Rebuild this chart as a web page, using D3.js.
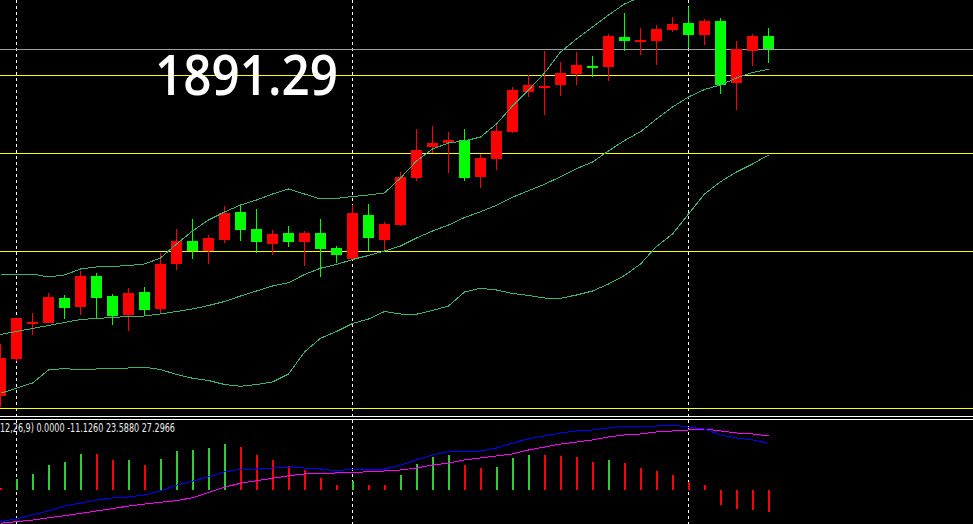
<!DOCTYPE html>
<html><head><meta charset="utf-8">
<script src="https://cdn.jsdelivr.net/npm/d3@7"></script>
<style>html,body{margin:0;padding:0;background:#000;overflow:hidden}</style>
</head><body>
<svg id="c" width="973" height="524"></svg>
<script>
// ---- data ----
const barIndex = d3.range(49);
const open  = [1752.72,1767.6,1781.8,1781.92,1791.8,1788.32,1800.6,1792.6,1785.12,1794.2,1787.52,1805.4,1814.6,1810.6,1815.0,1826.2,1819.4,1813.4,1817.8,1814.2,1817.8,1811.8,1807.4,1825.0,1815.0,1821.0,1839.8,1852.2,1853.8,1855.0,1840.2,1847.4,1858.2,1874.2,1876.2,1877.0,1881.4,1884.6,1884.2,1896.2,1894.6,1894.6,1899.0,1901.8,1897.0,1902.6,1877.8,1890.6,1896.6];
const high  = [1773.4,1783.9,1785.8,1793.8,1793.0,1802.6,1801.8,1793.4,1795.8,1796.2,1809.8,1819.4,1823.4,1817.0,1828.6,1829.0,1827.4,1819.0,1820.6,1818.6,1823.4,1812.6,1829.0,1829.4,1822.2,1842.2,1859.4,1860.6,1858.2,1859.4,1849.4,1861.0,1876.2,1881.0,1890.6,1886.2,1890.2,1888.6,1897.4,1905.8,1899.8,1901.0,1904.2,1908.2,1903.4,1903.8,1894.6,1897.4,1899.8];
const low   = [1748.32,1766.72,1777.0,1781.8,1783.4,1785.0,1783.68,1781.0,1778.6,1784.6,1785.92,1803.0,1807.4,1805.4,1813.8,1814.6,1809.8,1809.0,1812.2,1804.6,1800.2,1805.8,1807.0,1810.6,1810.6,1820.6,1838.4,1849.8,1841.8,1838.6,1835.8,1843.0,1857.8,1872.2,1865.0,1872.6,1877.0,1880.2,1878.6,1890.6,1889.0,1885.0,1898.2,1891.8,1893.0,1873.4,1867.0,1884.6,1885.8];
const close = [1767.92,1783.8,1782.2,1792.2,1787.92,1800.6,1791.92,1784.72,1793.8,1787.12,1805.4,1814.6,1810.6,1815.8,1825.8,1819.0,1814.2,1817.4,1814.2,1817.8,1811.4,1809.0,1825.8,1815.8,1821.4,1840.2,1851.0,1853.8,1855.0,1839.8,1847.8,1858.6,1875.0,1877.0,1876.6,1881.8,1885.0,1884.2,1896.6,1894.6,1895.0,1899.4,1901.4,1897.0,1902.6,1877.0,1891.4,1896.6,1891.29];

const bbUpper  = [1801.4,1801.4,1801.4,1800.2,1801.0,1803.4,1804.2,1804.4,1804.8,1805.4,1807.8,1813.4,1818.6,1823.0,1826.2,1829.0,1831.0,1833.4,1835.4,1833.4,1831.4,1831.6,1832.4,1833.0,1833.8,1839.8,1846.6,1851.4,1853.8,1854.6,1856.2,1861.4,1868.6,1875.0,1881.8,1890.2,1895.4,1900.2,1905.0,1909.4,1912.2,1914.6,1918.2,1919.0,1917.0,1915.8,1917.4,1918.6,1917.4];
const bbMiddle = [1777.2,1778.4,1779.6,1780.8,1782.0,1783.2,1783.6,1784.0,1784.4,1784.6,1785.4,1786.4,1787.4,1788.8,1790.4,1792.6,1794.6,1796.6,1797.9,1801.2,1803.7,1805.2,1807.2,1808.8,1810.6,1812.6,1815.8,1818.6,1821.0,1824.0,1826.3,1828.9,1832.1,1834.7,1837.3,1840.3,1843.5,1846.2,1850.6,1854.8,1858.3,1863.4,1868.2,1872.2,1875.2,1877.0,1879.8,1882.0,1883.3];
const bbLower  = [1753.7,1755.7,1757.8,1763.0,1763.6,1763.0,1763.4,1763.7,1763.8,1764.1,1763.2,1761.2,1759.7,1758.8,1757.2,1756.5,1757.2,1758.2,1761.4,1770.2,1775.7,1778.4,1781.6,1783.4,1786.4,1785.4,1785.3,1786.8,1788.6,1794.2,1795.7,1795.0,1793.6,1792.8,1791.8,1791.7,1793.0,1794.6,1797.4,1800.8,1805.4,1812.4,1817.4,1825.4,1833.4,1838.3,1842.2,1845.4,1849.0];

const levelLines = [1881.0, 1849.8, 1810.6, 1747.8];   // yellow horizontal lines
const bidPrice = 1891.29;
const separatorBars = [1, 22, 43];                     // dotted vertical lines
const priceLabel = "1891.29";

const macdHist   = [1.0,5.6,8.1,12.6,14.1,18.2,18.1,15.2,15.3,12.6,15.7,19.7,20.2,21.2,23.2,21.7,17.7,15.2,12.1,10.1,6.1,2.5,4.5,2.5,2.5,7.6,13.1,16.7,17.8,12.6,11.1,11.6,16.2,17.8,17.7,17.2,16.7,14.1,15.2,13.6,11.1,9.6,7.6,4.0,2.5,-7.6,-9.6,-10.1,-11.13];
const macdMain   = [-16.0,-14.6,-12.6,-10.6,-8.1,-6.6,-5.1,-4.0,-3.5,-2.5,-0.5,2.5,4.5,6.6,9.1,10.6,10.6,11.1,11.6,11.1,10.6,9.6,10.6,10.1,10.6,12.6,15.2,17.7,19.3,19.2,19.7,21.2,23.7,25.8,27.3,28.8,29.8,30.3,31.3,32.3,32.3,32.3,32.8,31.8,30.8,27.8,26.3,25.3,23.588];
const macdSignal = [-16.8,-16.0,-15.2,-14.0,-13.0,-11.8,-10.6,-9.4,-8.1,-7.1,-6.2,-5.4,-3.9,-1.2,1.4,3.4,4.7,5.9,7.2,8.1,8.4,8.6,8.9,9.2,9.6,10.1,11.1,12.6,13.6,15.2,16.2,17.2,18.2,20.2,21.7,23.2,24.2,25.3,26.8,27.8,28.3,29.3,29.8,30.3,30.8,29.8,28.8,28.3,27.2966];
const macdLabel = "12,26,9) 0.0000 -11.1260 23.5880 27.2966";

// ---- drawing ----
const W = 973, H = 524;
const svg = d3.select("#c");
svg.append("rect").attr("width", W).attr("height", H).attr("fill", "#000");

const x = d3.scaleLinear().domain([0, 48]).range([0.5, 768.5]);
const y = d3.scaleLinear().domain([1748.2, 1911.0]).range([407, 0]);
const yM = d3.scaleLinear().domain([-17.17, 35.35]).range([524, 420]);
const px = v => Math.round(v - 0.5) + 0.5;

const defs = svg.append("defs");
defs.append("clipPath").attr("id", "mainClip").append("rect").attr("x", 0).attr("y", 0).attr("width", W).attr("height", 416);
defs.append("clipPath").attr("id", "subClip").append("rect").attr("x", 0).attr("y", 420).attr("width", W).attr("height", 104);

// dotted vertical separators (full height, background)
svg.append("g").selectAll("line").data(separatorBars).join("line")
  .attr("x1", d => x(d)).attr("x2", d => x(d)).attr("y1", 0).attr("y2", H)
  .attr("stroke", "#fff").attr("stroke-width", 1).attr("stroke-dasharray", "3,3")
  .attr("shape-rendering", "crispEdges");

const main = svg.append("g").attr("clip-path", "url(#mainClip)");
const sub = svg.append("g").attr("clip-path", "url(#subClip)");

// horizontal levels
main.selectAll("line.lvl").data(levelLines).join("line").attr("class", "lvl")
  .attr("x1", 0).attr("x2", W).attr("y1", d => px(y(d))).attr("y2", d => px(y(d)))
  .attr("stroke", "#ffff00").attr("stroke-width", 1).attr("shape-rendering", "crispEdges");
main.append("line").attr("x1", 0).attr("x2", W)
  .attr("y1", px(y(bidPrice))).attr("y2", px(y(bidPrice)))
  .attr("stroke", "#9aa0a8").attr("stroke-width", 1).attr("shape-rendering", "crispEdges");

// candles
const up = i => close[i] >= open[i];
const candleColor = i => up(i) ? "#ff0000" : "#00ff00";
const cg = main.append("g");
cg.selectAll("line.wick").data(barIndex).join("line").attr("class", "wick")
  .attr("x1", i => x(i)).attr("x2", i => x(i))
  .attr("y1", i => Math.round(y(high[i]))).attr("y2", i => Math.round(y(low[i])))
  .attr("stroke", candleColor).attr("stroke-width", 1).attr("shape-rendering", "crispEdges");
cg.selectAll("rect.body").data(barIndex).join("rect").attr("class", "body")
  .attr("x", i => x(i) - 5.5).attr("width", 11)
  .attr("y", i => Math.round(y(Math.max(open[i], close[i]))))
  .attr("height", i => Math.max(2, Math.round(Math.abs(y(open[i]) - y(close[i])))))
  .attr("fill", candleColor).attr("shape-rendering", "crispEdges");

// Bollinger bands
const bandLine = arr => d3.line().x((d, i) => x(i)).y(d => y(d))(arr);
[bbUpper, bbMiddle, bbLower].forEach(arr => {
  main.append("path").attr("d", bandLine(arr)).attr("fill", "none")
    .attr("stroke", "#3cb371").attr("stroke-width", 1).attr("shape-rendering", "crispEdges");
});

// price label
main.append("text").attr("x", 155).attr("y", 95).text(priceLabel)
  .attr("fill", "#fff").attr("font-family", "'Comic Sans MS','Open Sans',sans-serif")
  .attr("font-weight", 600)
  .attr("font-size", 56).attr("textLength", 183).attr("lengthAdjust", "spacingAndGlyphs");

// window separators
[416.5, 419.5].forEach(yy => svg.append("line").attr("x1", 0).attr("x2", W).attr("y1", yy).attr("y2", yy)
  .attr("stroke", "#fff").attr("stroke-width", 1).attr("shape-rendering", "crispEdges"));

// MACD histogram
sub.selectAll("rect.hist").data(barIndex).join("rect").attr("class", "hist")
  .attr("x", i => x(i) - 0.5).attr("width", 2)
  .attr("y", i => Math.round(Math.min(yM(0), yM(macdHist[i]))))
  .attr("height", i => Math.max(1, Math.round(Math.abs(yM(macdHist[i]) - yM(0)))))
  .attr("fill", i => (i > 0 && macdHist[i] > macdHist[i - 1]) ? "#32cd32" : "#ff0000")
  .attr("shape-rendering", "crispEdges");

const mLine = arr => d3.line().x((d, i) => x(i)).y(d => yM(d))(arr);
sub.append("path").attr("d", mLine(macdSignal)).attr("fill", "none").attr("stroke", "#ff00ff")
  .attr("stroke-width", 1).attr("shape-rendering", "crispEdges");
sub.append("path").attr("d", mLine(macdMain)).attr("fill", "none").attr("stroke", "#0000ff")
  .attr("stroke-width", 1).attr("shape-rendering", "crispEdges");

sub.append("text").attr("x", 0).attr("y", 432).text(macdLabel)
  .attr("fill", "#ececec").attr("font-family", "Tahoma,'DejaVu Sans',sans-serif")
  .attr("font-size", 12.5).attr("textLength", 175).attr("lengthAdjust", "spacingAndGlyphs");
</script>
</body></html>
